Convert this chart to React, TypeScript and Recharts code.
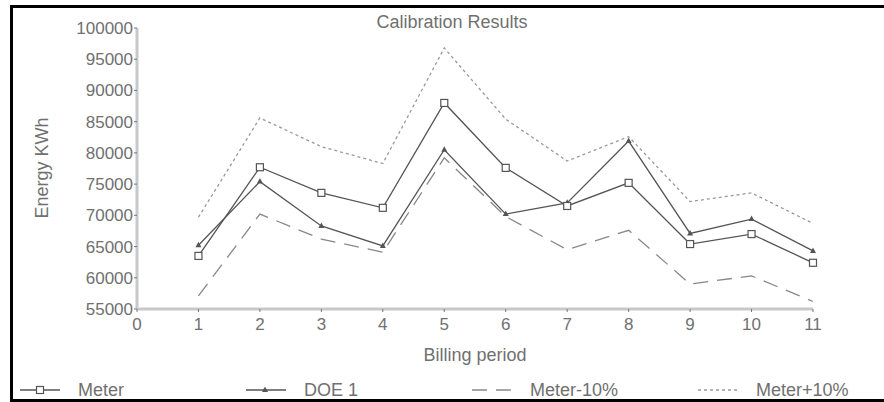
import { LineChart, Line, XAxis, YAxis } from 'recharts';

const periods = [1, 2, 3, 4, 5, 6, 7, 8, 9, 10, 11];
const meter = [63500, 77700, 73600, 71200, 88000, 77600, 71500, 75200, 65400, 67000, 62400];
const doe1 = [65200, 75400, 68300, 65100, 80500, 70200, 72000, 81900, 67100, 69400, 64300];
const meterMinus10 = [57100, 70200, 66200, 64100, 79200, 69800, 64500, 67600, 59000, 60300, 56200];
const meterPlus10 = [69700, 85600, 81000, 78300, 96800, 85400, 78700, 82600, 72200, 73600, 68700];

const xTicks = [0, 1, 2, 3, 4, 5, 6, 7, 8, 9, 10, 11];
const yTicks = [55000, 60000, 65000, 70000, 75000, 80000, 85000, 90000, 95000, 100000];

const seriesNames = ['Meter', 'DOE 1', 'Meter-10%', 'Meter+10%'];

const data = periods.map((p, i) => ({
  period: p,
  meter: meter[i],
  doe1: doe1[i],
  minus: meterMinus10[i],
  plus: meterPlus10[i],
}));

const FONT = '"Liberation Sans", Arial, sans-serif';
const TEXT = '#707070';

const SquareDot = ({ cx, cy }: any) => {
  if (cx == null || cy == null) return null;
  return <rect x={cx - 3.5} y={cy - 3.5} width={7} height={7} fill="#fff" stroke="#555" strokeWidth={1.2} />;
};

const TriangleDot = ({ cx, cy }: any) => {
  if (cx == null || cy == null) return null;
  return <path d={`M${cx},${cy - 3.5} L${cx + 3},${cy + 2} L${cx - 3},${cy + 2} Z`} fill="#555" />;
};

const LegendSymbol = ({ idx }: { idx: number }) => (
  <svg width={42} height={12} style={{ display: 'block' }}>
    {idx === 0 && (
      <>
        <line x1={0} y1={6} x2={40} y2={6} stroke="#555" strokeWidth={1.3} />
        <rect x={16.5} y={2.5} width={7} height={7} fill="#fff" stroke="#555" strokeWidth={1.2} />
      </>
    )}
    {idx === 1 && (
      <>
        <line x1={0} y1={6} x2={40} y2={6} stroke="#555" strokeWidth={1.3} />
        <path d="M19,2.5 L22,8 L16,8 Z" fill="#555" />
      </>
    )}
    {idx === 2 && <line x1={0} y1={6} x2={42} y2={6} stroke="#888" strokeWidth={1.3} strokeDasharray="15 9" />}
    {idx === 3 && <line x1={0} y1={6} x2={40} y2={6} stroke="#999" strokeWidth={1.3} strokeDasharray="3 3" />}
  </svg>
);

export default function App() {
  return (
    <div style={{ position: 'fixed', left: 0, top: 0, width: 884, height: 402, overflow: 'hidden', background: '#fff', fontFamily: FONT }}>
      <div style={{ position: 'absolute', left: 10, top: 5, width: 900, height: 397, border: '3px solid #000', boxSizing: 'border-box' }} />

      <div style={{ position: 'absolute', left: 352, top: 12, width: 200, lineHeight: '20px', textAlign: 'center', fontSize: 18, color: TEXT }}>
        Calibration Results
      </div>

      <div style={{ position: 'absolute', left: 0, top: 0 }}>
        <LineChart width={884} height={402} data={data} margin={{ top: 28, right: 71, bottom: 63, left: 77 }}>
          <XAxis
            type="number"
            dataKey="period"
            domain={[0, 11]}
            ticks={xTicks}
            height={30}
            tick={{ fontSize: 17, fill: TEXT, fontFamily: FONT }}
            axisLine={{ stroke: '#c8c8c8', strokeWidth: 3 }}
            tickLine={{ stroke: '#777' }}
            tickSize={3}
            tickMargin={6}
            label={{ value: 'Billing period', position: 'bottom', offset: 9, fontSize: 18, fill: TEXT, fontFamily: FONT }}
          />
          <YAxis
            type="number"
            domain={[55000, 100000]}
            ticks={yTicks}
            width={60}
            interval={0}
            tick={{ fontSize: 17, fill: TEXT, fontFamily: FONT }}
            axisLine={{ stroke: '#c8c8c8', strokeWidth: 3 }}
            tickLine={{ stroke: '#777' }}
            tickSize={3}
            tickMargin={1}
            label={{
              content: () => (
                <text
                  x={42}
                  y={168}
                  transform="rotate(-90 42 168)"
                  textAnchor="middle"
                  dominantBaseline="central"
                  fontSize={18}
                  fill={TEXT}
                  fontFamily={FONT}
                >
                  Energy KWh
                </text>
              ),
            }}
          />
          <Line type="linear" dataKey="plus" name={seriesNames[3]} stroke="#999" strokeWidth={1.3} strokeDasharray="3 3" dot={false} activeDot={false} isAnimationActive={false} />
          <Line type="linear" dataKey="minus" name={seriesNames[2]} stroke="#888" strokeWidth={1.3} strokeDasharray="15 9" dot={false} activeDot={false} isAnimationActive={false} />
          <Line type="linear" dataKey="doe1" name={seriesNames[1]} stroke="#555" strokeWidth={1.3} dot={<TriangleDot />} activeDot={false} isAnimationActive={false} />
          <Line type="linear" dataKey="meter" name={seriesNames[0]} stroke="#555" strokeWidth={1.3} dot={<SquareDot />} activeDot={false} isAnimationActive={false} />
        </LineChart>
      </div>

      {seriesNames.map((name, i) => {
        const left = 20 + i * 226;
        return (
          <div key={name} style={{ position: 'absolute', left, top: 380, height: 20, display: 'flex', alignItems: 'center' }}>
            <LegendSymbol idx={i} />
            <span style={{ marginLeft: 16, fontSize: 18, color: TEXT, lineHeight: '20px' }}>{name}</span>
          </div>
        );
      })}
    </div>
  );
}
